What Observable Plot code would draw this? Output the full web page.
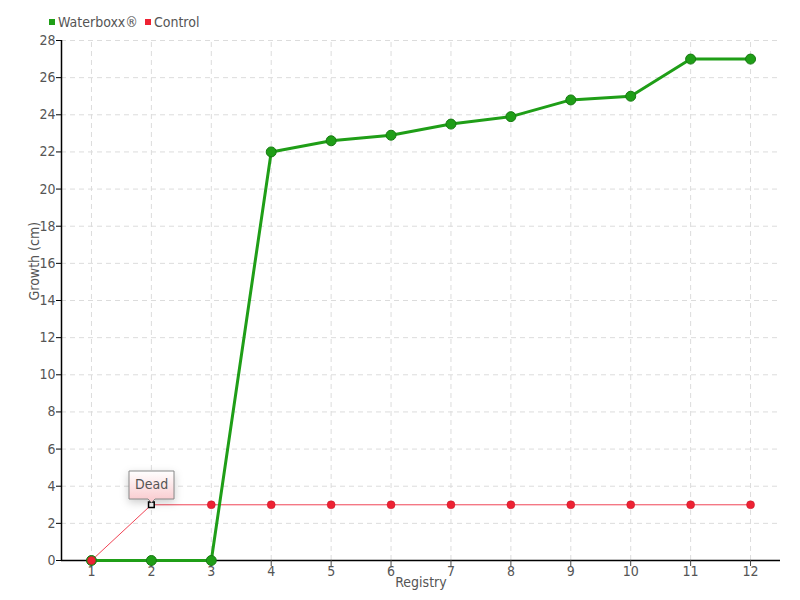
<!DOCTYPE html>
<html><head><meta charset="utf-8">
<script src="https://cdn.jsdelivr.net/npm/d3@7"></script>
<script src="https://cdn.jsdelivr.net/npm/@observablehq/plot@0.6"></script>
<style>
body{margin:0;background:#fff;font-family:"DejaVu Sans Condensed","Liberation Sans Narrow",sans-serif;font-stretch:condensed;}
#wrap{position:relative;width:800px;height:600px;}
#legend{height:30px;display:flex;align-items:center;padding-left:49px;padding-top:13px;box-sizing:border-box;font-size:14px;color:#555;}
#legend span.sw{display:inline-block;width:6px;height:6px;margin-right:3px;}
#legend span.it{margin-right:7px;display:flex;align-items:center;}
svg{font-stretch:condensed;}
</style></head>
<body><div id="wrap"><div id="legend"></div><div id="chart"></div></div>
<script>
const registry = [1,2,3,4,5,6,7,8,9,10,11,12];
const waterboxx = [0,0,0,22,22.6,22.9,23.5,23.9,24.8,25,27,27];
const control = [0,3,3,3,3,3,3,3,3,3,3,3];
const yTicks = d3.range(0,29,2);
const series = [{name:"Waterboxx®", color:"#1f9e17"},{name:"Control", color:"#ee2233"}];
const deadNote = [{x:2, y:3, label:"Dead"}];

const wData = registry.map((r,i)=>({x:r,y:waterboxx[i]}));
const cData = registry.map((r,i)=>({x:r,y:control[i]}));
const font = '"DejaVu Sans Condensed","Liberation Sans Narrow",sans-serif';

const lg = document.getElementById("legend");
series.forEach(s=>{const it=document.createElement("span");it.className="it";it.innerHTML=`<span class="sw" style="background:${s.color}"></span>${s.name}`;lg.appendChild(it);});

const chart = Plot.plot({
  width:800, height:570,
  marginTop:10, marginBottom:40, marginLeft:61, marginRight:20,
  style:{fontFamily:font, fontSize:"14px", color:"#555", background:"#fff"},
  x:{domain:[0.5,12.5], ticks:registry, tickFormat:d=>d, label:null},
  y:{domain:[0,28], ticks:yTicks, label:null},
  marks:[
    Plot.gridX(registry,{stroke:"#dcdcdc", strokeOpacity:1, strokeDasharray:"5,4", y1:0, y2:28}),
    Plot.gridY(yTicks.slice(1),{stroke:"#dcdcdc", strokeOpacity:1, strokeDasharray:"5,4"}),
    Plot.ruleX([0.5],{stroke:"#000", strokeWidth:1.5}),
    Plot.ruleY([0],{stroke:"#000", strokeWidth:1.5}),
    Plot.axisX({ticks:registry, tickSize:6, tickPadding:0, fontSize:14, stroke:"#444", color:"#555", label:null, tickFormat:d=>d}),
    Plot.axisY({ticks:yTicks, tickSize:5, tickPadding:1, fontSize:14, stroke:"#000", color:"#555", label:null}),
    Plot.text(["Growth (cm)"],{frameAnchor:"left", dx:-27, rotate:-90, fontSize:14, fill:"#555"}),
    Plot.text(["Registry"],{frameAnchor:"bottom", dy:26, fontSize:14, fill:"#555"}),
    Plot.line(cData,{x:"x",y:"y", stroke:"#f04455", strokeWidth:1}),
    Plot.line(wData,{x:"x",y:"y", stroke:"#1f9e17", strokeWidth:3}),
    Plot.dot(wData,{x:"x",y:"y", r:5, fill:"#1f9e17", stroke:"#177a12", strokeWidth:1}),
    Plot.dot(cData.filter(d=>d.x!==2),{x:"x",y:"y", r:4, fill:"#ee2233", stroke:"#c0182a", strokeWidth:0.5}),
    Plot.dot(deadNote,{x:"x",y:"y", symbol:"square", r:3.2, fill:"#fff", stroke:"#000", strokeWidth:1.5}),
    Plot.tip(deadNote,{x:"x",y:"y", title:"label", anchor:"bottom", fill:"url(#pinkgrad)", stroke:"#888", fontSize:14, textPadding:6, pointerSize:7, dy:-2})
  ]
});
document.getElementById("chart").appendChild(chart);
const svg = d3.select(chart);
const defs = svg.insert("defs",":first-child");
const g = defs.append("linearGradient").attr("id","pinkgrad").attr("x1",0).attr("y1",0).attr("x2",0).attr("y2",1);
g.append("stop").attr("offset","0%").attr("stop-color","#ffffff");
g.append("stop").attr("offset","100%").attr("stop-color","#f9c8cc");
</script></body></html>
